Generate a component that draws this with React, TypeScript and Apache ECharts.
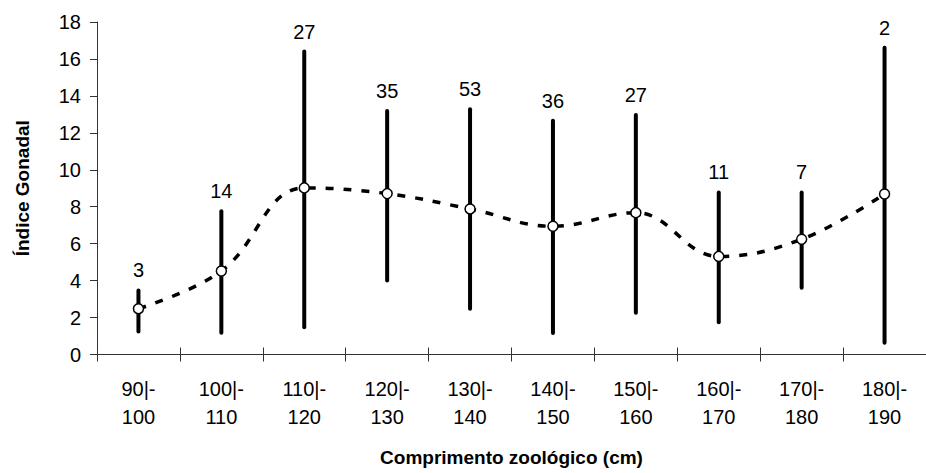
import React, { useEffect, useRef } from "react";
import * as echarts from "echarts";

// Length classes (cm)
const categories = [
  "90|-\n100",
  "100|-\n110",
  "110|-\n120",
  "120|-\n130",
  "130|-\n140",
  "140|-\n150",
  "150|-\n160",
  "160|-\n170",
  "170|-\n180",
  "180|-\n190",
];

// Mean gonadal index per class
const means = [2.48, 4.52, 9.02, 8.71, 7.88, 6.94, 7.68, 5.31, 6.24, 8.69];
// Range (lower / upper bound) per class
const lows = [1.25, 1.18, 1.48, 4.01, 2.48, 1.16, 2.26, 1.75, 3.61, 0.63];
const highs = [3.47, 7.75, 16.4, 13.18, 13.27, 12.65, 12.96, 8.77, 8.77, 16.61];
// Sample size per class
const counts = [3, 14, 27, 35, 53, 36, 27, 11, 7, 2];

const yTicks = { min: 0, max: 18, interval: 2 };

const FONT = "'Liberation Sans', Arial, Helvetica, sans-serif";

export default function App() {
  const ref = useRef<HTMLDivElement>(null);

  useEffect(() => {
    if (!ref.current) return;
    const chart = echarts.init(ref.current, null, { renderer: "svg" });

    const rangeData = categories.map((_, i) => [i, lows[i], highs[i], counts[i]]);

    chart.setOption({
      animation: false,
      backgroundColor: "#ffffff",
      grid: { left: 97, top: 22, width: 837, bottom: 118.5, containLabel: false },
      xAxis: [
        {
          type: "category",
          data: categories,
          boundaryGap: true,
          position: "bottom",
          axisLine: { show: true, lineStyle: { color: "#333", width: 1 } },
          axisTick: { show: true, inside: false, length: 7, lineStyle: { color: "#333" } },
          axisLabel: {
            color: "#000",
            fontSize: 20,
            fontFamily: FONT,
            lineHeight: 28,
            margin: 20,
            interval: 0,
          },
          name: "Comprimento zoológico (cm)",
          nameLocation: "middle",
          nameGap: 93,
          nameTextStyle: { color: "#000", fontSize: 19, fontWeight: "bold", fontFamily: FONT },
          splitLine: { show: false },
        },
        {
          type: "category",
          data: categories,
          boundaryGap: true,
          position: "bottom",
          axisLine: { show: false },
          axisTick: { show: true, inside: true, length: 7, lineStyle: { color: "#333" } },
          axisLabel: { show: false },
          splitLine: { show: false },
        },
      ],
      yAxis: {
        type: "value",
        min: yTicks.min,
        max: yTicks.max,
        interval: yTicks.interval,
        axisLine: { show: true, lineStyle: { color: "#333", width: 1 } },
        axisTick: { show: true, inside: false, length: 7, lineStyle: { color: "#333" } },
        axisLabel: { color: "#000", fontSize: 20, fontFamily: FONT, margin: 16 },
        splitLine: { show: false },
        name: "Índice Gonadal",
        nameLocation: "middle",
        nameGap: 65,
        nameRotate: 90,
        nameTextStyle: { color: "#000", fontSize: 19, fontWeight: "bold", fontFamily: FONT },
      },
      series: [
        {
          type: "line",
          data: means,
          smooth: 0.4,
          symbol: "none",
          z: 1,
          lineStyle: { color: "#000", width: 3.5, type: [8, 10] },
        },
        {
          type: "custom",
          z: 2,
          data: rangeData,
          encode: { x: 0, y: [1, 2] },
          renderItem: (params: any, api: any) => {
            const idx = api.value(0);
            const bottom = api.coord([idx, api.value(1)]);
            const top = api.coord([idx, api.value(2)]);
            return {
              type: "group",
              children: [
                {
                  type: "line",
                  shape: { x1: bottom[0], y1: bottom[1], x2: top[0], y2: top[1] },
                  style: { stroke: "#000", lineWidth: 4, lineCap: "round" },
                },
                {
                  type: "text",
                  style: {
                    text: String(api.value(3)),
                    x: top[0],
                    y: top[1] - 10,
                    align: "center",
                    verticalAlign: "bottom",
                    fill: "#000",
                    fontSize: 20,
                    fontFamily: FONT,
                  },
                },
              ],
            };
          },
        },
        {
          type: "scatter",
          data: means,
          z: 3,
          symbol: "circle",
          symbolSize: 10,
          itemStyle: { color: "#ffffff", opacity: 1, borderColor: "#000", borderWidth: 1.5 },
        },
      ],
    });

    return () => chart.dispose();
  }, []);

  return (
    <div
      ref={ref}
      style={{ position: "fixed", left: 0, top: 0, width: 926, height: 473, background: "#fff" }}
    />
  );
}
